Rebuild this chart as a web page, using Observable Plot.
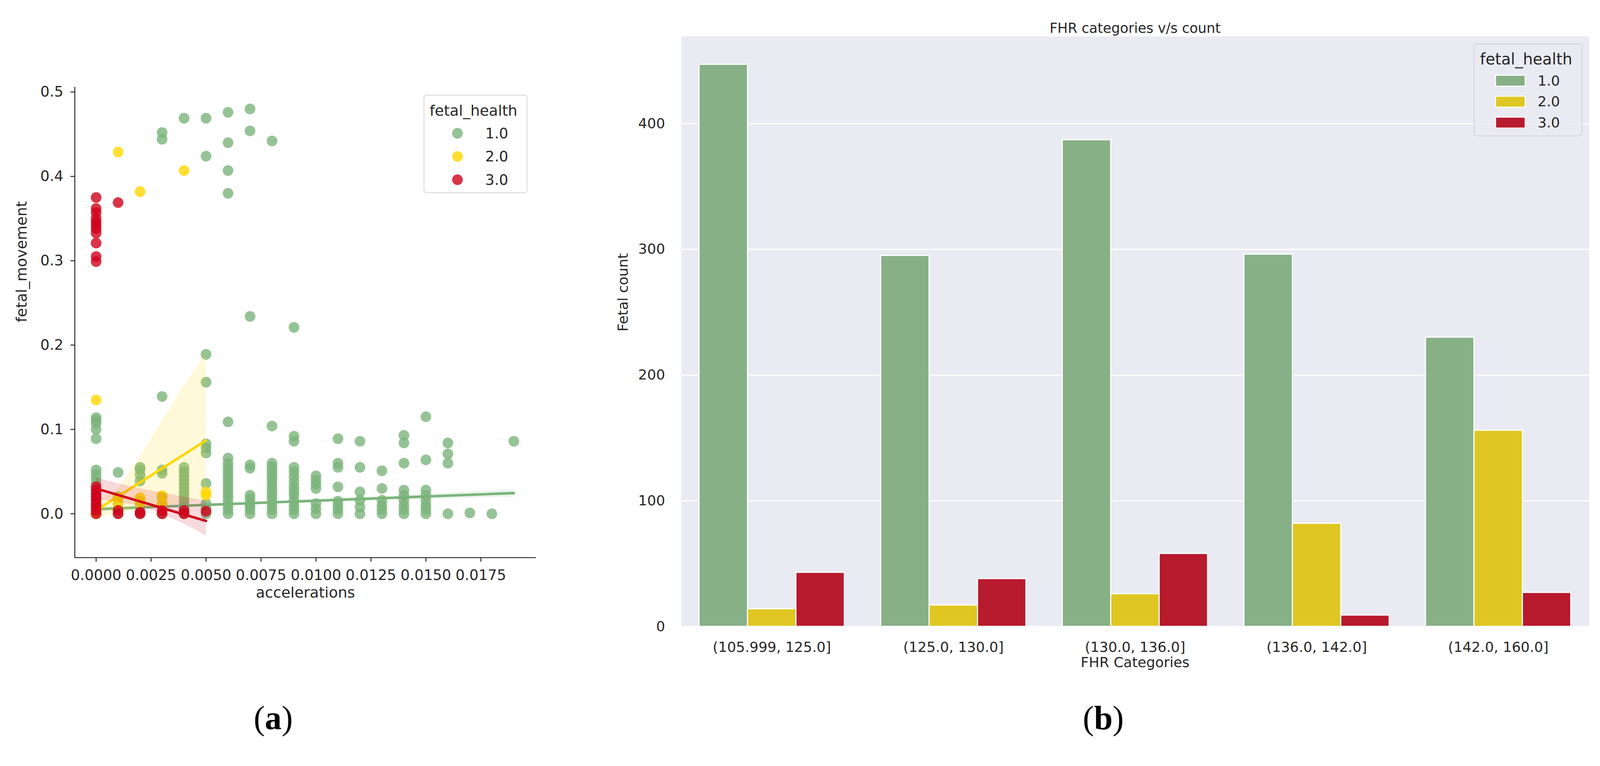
<!DOCTYPE html>
<html><head><meta charset="utf-8">
<script src="https://cdn.jsdelivr.net/npm/d3@7"></script>
<script src="https://cdn.jsdelivr.net/npm/@observablehq/plot@0.6"></script>
<style>
html,body{margin:0;padding:0;background:#fff;overflow:hidden;}
#root{position:relative;width:4204px;height:1960px;overflow:hidden;background:#fff;font-family:"DejaVu Sans",sans-serif;color:#262626;transform-origin:0 0;}
#root svg{position:absolute;}
.t{position:absolute;white-space:nowrap;line-height:1;}
.box{position:absolute;box-sizing:border-box;border-radius:8px;}
.panel-label{position:absolute;font-family:"Liberation Serif","DejaVu Serif",serif;font-size:88px;color:#000;transform:translate(-50%,-50%);white-space:nowrap;line-height:1;}
</style></head><body><div id="root"></div><script>
// ---------- panel (a) data: accelerations vs fetal_movement ----------
const healthLevels = ["1.0", "2.0", "3.0"];
const scatterColors = ["#7AB47A", "#FFD700", "#D0021B"];
const accTicks = [0, 0.0025, 0.005, 0.0075, 0.01, 0.0125, 0.015, 0.0175];
const fmTicks = [0, 0.1, 0.2, 0.3, 0.4, 0.5];
const accDomain = [-0.00097, 0.02001];
const fmDomain = [-0.052, 0.506];

// columns: [acceleration, [fetal_movement values...]]
const normalColumns = [
  [0.000, [0.114, 0.111, 0.107, 0.100, 0.089, 0.052, 0.047, 0.042, 0.037, 0.02, 0.01, 0.0]],
  [0.001, [0.049, 0.02, 0.012, 0.005, 0.0]],
  [0.002, [0.055, 0.052, 0.046, 0.039, 0.015, 0.008, 0.0]],
  [0.003, [0.452, 0.444, 0.139, 0.052, 0.048, 0.02, 0.01, 0.0]],
  [0.004, [0.469, 0.055, 0.05, 0.045, 0.04, 0.035, 0.03, 0.025, 0.02, 0.015, 0.01, 0.005, 0.0]],
  [0.005, [0.469, 0.424, 0.189, 0.156, 0.083, 0.078, 0.072, 0.036, 0.012, 0.006, 0.0]],
  [0.006, [0.476, 0.440, 0.407, 0.380, 0.109, 0.066, 0.06, 0.055, 0.05, 0.045, 0.04, 0.035, 0.03, 0.025, 0.02, 0.015, 0.01, 0.005, 0.0]],
  [0.007, [0.480, 0.454, 0.234, 0.058, 0.054, 0.022, 0.018, 0.013, 0.009, 0.005, 0.0]],
  [0.008, [0.442, 0.104, 0.06, 0.056, 0.052, 0.048, 0.044, 0.04, 0.035, 0.03, 0.025, 0.02, 0.015, 0.01, 0.005, 0.0]],
  [0.009, [0.221, 0.092, 0.086, 0.055, 0.05, 0.044, 0.038, 0.032, 0.027, 0.022, 0.016, 0.01, 0.005, 0.0]],
  [0.010, [0.045, 0.04, 0.035, 0.03, 0.012, 0.006, 0.0]],
  [0.011, [0.089, 0.06, 0.055, 0.032, 0.015, 0.01, 0.005, 0.0]],
  [0.012, [0.086, 0.055, 0.026, 0.016, 0.008, 0.0]],
  [0.013, [0.051, 0.03, 0.016, 0.01, 0.005, 0.0]],
  [0.014, [0.093, 0.084, 0.06, 0.028, 0.022, 0.016, 0.01, 0.005, 0.0]],
  [0.015, [0.115, 0.064, 0.028, 0.022, 0.016, 0.01, 0.005, 0.0]],
  [0.016, [0.084, 0.071, 0.06, 0.0]],
  [0.017, [0.001]],
  [0.018, [0.0]],
  [0.019, [0.086]]
];
const suspectColumns = [
  [0.000, [0.135, 0.005, 0.0]],
  [0.001, [0.429, 0.019, 0.012]],
  [0.002, [0.382, 0.019, 0.0135]],
  [0.003, [0.0215, 0.0135]],
  [0.004, [0.407]],
  [0.005, [0.026, 0.022]]
];
const pathologicColumns = [
  [0.000, [0.375, 0.362, 0.357, 0.350, 0.346, 0.342, 0.338, 0.333, 0.321, 0.305, 0.299,
           0.032, 0.028, 0.024, 0.020, 0.016, 0.012, 0.008, 0.004, 0.0]],
  [0.001, [0.369, 0.004, 0.0]],
  [0.002, [0.002, 0.0]],
  [0.003, [0.004, 0.0]],
  [0.004, [0.004, 0.0]],
  [0.005, [0.003]]
];
// regression lines (endpoints) and confidence bands [acc, low, high]
const normalFit = [[0, 0.0055], [0.019, 0.0245]];
const suspectFit = [[0, 0.004], [0.005, 0.087]];
const pathologicFit = [[0, 0.030], [0.005, -0.0085]];
const normalBand = [[0, 0.0025, 0.0085], [0.0025, 0.0062, 0.0098], [0.005, 0.0088, 0.0122], [0.0075, 0.0113, 0.0147],
  [0.01, 0.0135, 0.0175], [0.0125, 0.0155, 0.0205], [0.015, 0.0175, 0.0235], [0.0175, 0.0193, 0.0267], [0.019, 0.0200, 0.0290]];
const suspectBand = [[0, -0.004, 0.013], [0.001, 0.0, 0.030], [0.002, 0.005, 0.068], [0.003, 0.009, 0.111], [0.004, 0.013, 0.152], [0.005, 0.016, 0.19]];
const pathologicBand = [[0, 0.017, 0.043], [0.001, 0.014, 0.036], [0.002, 0.009, 0.030], [0.003, 0.0, 0.025], [0.004, -0.012, 0.020], [0.005, -0.026, 0.015]];

// ---------- panel (b) data: FHR categories v/s count ----------
const fhrCategories = ["(105.999, 125.0]", "(125.0, 130.0]", "(130.0, 136.0]", "(136.0, 142.0]", "(142.0, 160.0]"];
const normalCounts = [447, 295, 387, 296, 230];
const suspectCounts = [14, 17, 26, 82, 156];
const pathologicCounts = [43, 38, 58, 9, 27];
const barColors = ["#87B087", "#DFC622", "#B81A2E"];
const countTicks = [0, 100, 200, 300, 400];
const countDomain = [0, 469.35];

const root = document.getElementById("root");
const INK = "#262626";
// fit the 4204-px layout into whatever viewport the browser really has
const fit = window.innerWidth / 4204;
if (Math.abs(fit - 1) > 0.001) root.style.transform = "scale(" + fit + ")";

// ---------- build panel (a) ----------
const columnsByLevel = [normalColumns, suspectColumns, pathologicColumns];
const fits = [normalFit, suspectFit, pathologicFit];
const bands = [normalBand, suspectBand, pathologicBand];
const marksA = [];
columnsByLevel.forEach((cols, k) => {
  const pts = [];
  cols.forEach(([a, vals]) => vals.forEach(v => pts.push({acc: a, fm: v})));
  marksA.push(Plot.dot(pts, {x: "acc", y: "fm", r: 14, fill: scatterColors[k], fillOpacity: 0.8, stroke: null}));
  marksA.push(Plot.areaY(bands[k], {x: d => d[0], y1: d => d[1], y2: d => d[2], fill: scatterColors[k], fillOpacity: 0.15}));
  marksA.push(Plot.line(fits[k], {x: d => d[0], y: d => d[1], stroke: scatterColors[k], strokeWidth: 6.5}));
});

const plotA = Plot.plot({
  width: 1450, height: 1650,
  marginLeft: 196, marginRight: 42, marginTop: 228, marginBottom: 186,
  x: {domain: accDomain},
  y: {domain: fmDomain},
  style: {fontFamily: "DejaVu Sans", color: INK, background: "transparent", overflow: "visible"},
  marks: [
    ...marksA,
    Plot.ruleX([accDomain[0]], {stroke: INK, strokeWidth: 2.5}),
    Plot.ruleY([fmDomain[0]], {stroke: INK, strokeWidth: 2.5}),
    Plot.axisX(accTicks, {tickFormat: d3.format(".4f"), tickSize: 11, tickPadding: 21, fontSize: 38, strokeWidth: 2.5, label: null}),
    Plot.axisY(fmTicks, {tickFormat: d3.format(".1f"), tickSize: 11, tickPadding: 19, fontSize: 38, strokeWidth: 2.5, label: null}),
    Plot.text(["accelerations"], {frameAnchor: "bottom", dy: 105, fontSize: 39, fill: INK}),
    Plot.text(["fetal_movement"], {frameAnchor: "left", dx: -139, rotate: -90, fontSize: 39, fill: INK})
  ]
});
plotA.style.left = "0px"; plotA.style.top = "0px";
root.appendChild(plotA);

// ---------- build panel (b) ----------
const countsByLevel = [normalCounts, suspectCounts, pathologicCounts];
const dodge = 0.8 / healthLevels.length;
const marksB = countsByLevel.map((counts, k) => {
  const rows = counts.map((c, i) => ({i, count: c, x1: i - 0.4 + k * dodge, x2: i - 0.4 + (k + 1) * dodge}));
  return Plot.rectY(rows, {x1: "x1", x2: "x2", y1: 0, y2: "count", fill: barColors[k], stroke: "white", strokeWidth: 3});
});

const plotB = Plot.plot({
  width: 2604, height: 1960,
  marginLeft: 189, marginRight: 29, marginTop: 95, marginBottom: 315,
  x: {domain: [-0.5, fhrCategories.length - 0.5]},
  y: {domain: countDomain},
  style: {fontFamily: "DejaVu Sans", color: INK, background: "transparent", overflow: "visible"},
  marks: [
    Plot.frame({fill: "#EAEAF2", stroke: null}),
    Plot.gridY(countTicks, {stroke: "white", strokeOpacity: 1, strokeWidth: 3}),
    ...marksB,
    Plot.axisY(countTicks, {tickSize: 0, tickPadding: 42, fontSize: 37, label: null}),
    Plot.axisX(d3.range(fhrCategories.length), {tickFormat: i => fhrCategories[i], tickSize: 0, tickPadding: 40, fontSize: 37, label: null}),
    Plot.text(["FHR categories v/s count"], {frameAnchor: "top", dy: -35, fontSize: 36, fill: INK}),
    Plot.text(["FHR Categories"], {frameAnchor: "bottom", dy: 106, fontSize: 37, fill: INK}),
    Plot.text(["Fetal count"], {frameAnchor: "left", dx: -152, rotate: -90, fontSize: 37, fill: INK})
  ]
});
plotB.style.left = "1600px"; plotB.style.top = "0px";
root.appendChild(plotB);

// ---------- legends (HTML) ----------
function addText(str, x, y, size, anchor) {
  const d = document.createElement("div");
  d.className = "t";
  d.textContent = str;
  d.style.left = x + "px"; d.style.top = y + "px";
  d.style.fontSize = size + "px";
  d.style.transform = anchor === "middle" ? "translate(-50%,-50%)" : "translate(0,-50%)";
  root.appendChild(d);
  return d;
}
function addBox(x, y, w, h, bg, border) {
  const b = document.createElement("div");
  b.className = "box";
  Object.assign(b.style, {left: x + "px", top: y + "px", width: w + "px", height: h + "px", background: bg, border: "2px solid " + border});
  root.appendChild(b);
  return b;
}
// legend (a)
addBox(1113, 249, 273, 258, "rgba(255,255,255,0.8)", "#D6D6D6");
addText("fetal_health", 1244, 290, 39, "middle");
healthLevels.forEach((lvl, k) => {
  const cy = 350 + k * 61;
  const m = document.createElement("div");
  Object.assign(m.style, {position: "absolute", left: (1202 - 14) + "px", top: (cy - 14) + "px", width: "28px", height: "28px",
    borderRadius: "50%", background: scatterColors[k], opacity: 0.8});
  root.appendChild(m);
  addText(lvl, 1275, cy, 38, "start");
});
// legend (b)
addBox(3872, 115, 286, 243, "rgba(234,234,242,0.8)", "#CFCFD6");
addText("fetal_health", 4010, 156, 41, "middle");
healthLevels.forEach((lvl, k) => {
  const cy = 212 + k * 55;
  const s = document.createElement("div");
  Object.assign(s.style, {position: "absolute", left: "3928px", top: (cy - 16) + "px", width: "81px", height: "32px",
    boxSizing: "border-box", border: "3px solid white", background: barColors[k]});
  root.appendChild(s);
  addText(lvl, 4040, cy, 37, "start");
});

// ---------- panel labels ----------
[["a", 718], ["b", 2899]].forEach(([ch, x]) => {
  const d = document.createElement("div");
  d.className = "panel-label";
  d.style.left = x + "px"; d.style.top = "1886px";
  d.innerHTML = "(<b>" + ch + "</b>)";
  root.appendChild(d);
});
</script></body></html>
